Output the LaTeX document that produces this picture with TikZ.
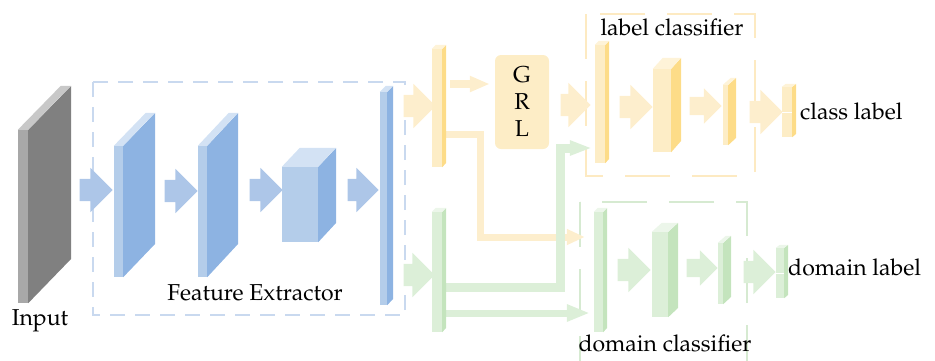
\documentclass[tikz,border=0pt]{standalone}
\usepackage[T1]{fontenc}
\usepackage{mathpazo}
\usetikzlibrary{shapes.arrows,arrows.meta}
\pgfdeclarelayer{back}
\pgfsetlayers{back,main}

\definecolor{bfront}{HTML}{B4CDEA}
\definecolor{bside}{HTML}{8DB3E2}
\definecolor{btop}{HTML}{D3E2F4}
\definecolor{barr}{HTML}{ADC6E8}
\definecolor{bdash}{HTML}{C9D9EF}
\definecolor{kfront}{HTML}{A8A8A8}
\definecolor{kside}{HTML}{808080}
\definecolor{ktop}{HTML}{C8C8C8}
\definecolor{yfront}{HTML}{FDEDC6}
\definecolor{yside}{HTML}{FDDC88}
\definecolor{ytop}{HTML}{FEF3D8}
\definecolor{yarr}{HTML}{FDEECD}
\definecolor{ydash}{HTML}{FDEAC2}
\definecolor{nfront}{HTML}{DCEFD8}
\definecolor{nside}{HTML}{C4E4BD}
\definecolor{ntop}{HTML}{ECF6EA}
\definecolor{narr}{HTML}{DCEFD8}
\definecolor{ndash}{HTML}{D6EAD1}

% slab: name, centre, width, height, dx, dy, front, side, top
\newcommand{\slab}[9]{%
\node[fill=#7, minimum width=#3, minimum height=#4, inner sep=0pt] (#1) at (#2) {};
\fill[#8] (#1.north east) -- ++(#5,-#6) -- ++(0,#4) -- (#1.south east) -- cycle;
\fill[#9] (#1.north west) -- ++(#5,-#6) -- ++(#3,0) -- (#1.north east) -- cycle;
}

\begin{document}
\begin{tikzpicture}[x=1pt,y=-1pt,
  fat/.style={single arrow, inner xsep=0pt, inner ysep=11pt, single arrow head extend=11pt},
  slim/.style={inner ysep=9pt, single arrow head extend=8.5pt},
  lbl/.style={font=\fontsize{23}{27}\selectfont, inner sep=0pt}]
\useasboundingbox (0,0) rectangle (935,360);

% feature extractor
\node[fat, fill=barr, minimum height=33] (fa1) at (90.5,190) {};
\node[fat, fill=barr, minimum height=33] (fa2) at (175.5,191) {};
\node[fat, fill=barr, minimum height=33] (fa3) at (260.5,190) {};
\node[fat, fill=barr, minimum height=31] (fa4) at (357.5,190) {};
\slab{inp}{23,216.5}{10}{173}{43}{44}{kfront}{kside}{ktop}
\slab{fe1}{118.5,211.5}{9}{131}{32}{33}{bfront}{bside}{btop}
\slab{fe2}{202.5,211.5}{9}{131}{31}{33}{bfront}{bside}{btop}
\slab{fe3}{300,204.5}{36}{75}{18}{19}{bfront}{bside}{btop}
\slab{fe4}{383.5,198.5}{7}{213}{6}{6}{bfront}{bside}{btop}

% branches
\node[fat, fill=yarr, minimum height=32] (ya0) at (414,106) {};
\node[fat, fill=narr, minimum height=31] (na0) at (413.5,275) {};
\slab{yb1}{437,108}{10}{118}{4}{4}{yfront}{yside}{ytop}
\slab{nb1}{437,272}{10}{120}{4}{4}{nfront}{nside}{ntop}
\node[fill=yfront, rounded corners=6pt, minimum width=54, minimum height=94, inner sep=0pt,
  align=center, font=\fontsize{23}{27}\selectfont] (grl) at (522,102) {G\\R\\L};

% label classifier
\node[fat, fill=yarr, minimum height=30] (ya1) at (570,105) {};
\slab{yb2}{600,104}{10}{118}{4}{4}{yfront}{yside}{ytop}
\node[fat, fill=yarr, minimum height=33] (ya2) at (630.5,107) {};
\slab{yb3}{662,110.5}{18}{83}{10}{11}{yfront}{yside}{ytop}
\node[fat, slim, fill=yarr, minimum height=32] (ya3) at (701,106) {};
\slab{yb4}{725.5,115}{5}{60}{8}{7}{yfront}{yside}{ytop}
\node[fat, fill=yarr, minimum height=33] (ya4) at (760.5,112) {};
\slab{cls}{787,112}{10}{50}{4}{3}{yfront}{yside}{ytop}
\draw[white, line width=0.8pt] (cls.west) -- (cls.east);

% domain classifier
\slab{nb2}{598.5,272}{9}{120}{4}{4}{nfront}{nside}{ntop}
\node[fat, fill=narr, minimum height=33] (na1) at (628.5,270) {};
\slab{nb3}{660,274.5}{16}{85}{10}{9}{nfront}{nside}{ntop}
\node[fat, slim, fill=narr, minimum height=31] (na2) at (697.5,268) {};
\slab{nb4}{720.5,273.5}{5}{61}{8}{7}{nfront}{nside}{ntop}
\node[fat, fill=narr, minimum height=32] (na3) at (754,272) {};
\slab{dom}{780,273}{8}{50}{4}{3}{nfront}{nside}{ntop}
\draw[white, line width=0.8pt] (dom.west) -- (dom.east);

% dashed boxes and links, behind
\begin{pgfonlayer}{back}
\draw[bdash, line width=2.5pt, dash pattern=on 15pt off 10pt] (93,82) rectangle (405,315);
\draw[ydash, line width=2.5pt, dash pattern=on 45pt off 22pt] (586,14) rectangle (755,176);
\draw[ndash, line width=2.5pt, dash pattern=on 45pt off 22pt] (580,202) rectangle (747,370);
\draw[yarr, line width=7pt, -{Triangle[length=18pt,width=15pt]}, shorten >=9pt]
  ([yshift=-26pt]yb1.east) -- ++(38,0) |- ([yshift=35pt]nb2.west);
\draw[narr, line width=9pt, -{Triangle[length=22pt,width=14pt]}, shorten >=3pt]
  ([yshift=-15pt]nb1.east) -- ++(118,0) |- ([yshift=-44pt]yb2.west);
\draw[narr, line width=7pt, -{Triangle[length=23pt,width=16pt]}, shorten >=4pt]
  ([yshift=-41pt]nb1.east) -- ([yshift=-41pt]nb2.west);
\draw[yarr, line width=8pt, -{Triangle[length=20pt,width=15pt]}, shorten <=8pt, shorten >=5pt]
  ([yshift=24pt]yb1.east) -- ([yshift=18pt]grl.west);
\end{pgfonlayer}

% labels
\node[lbl, anchor=base] (tin) at (40,325) {Input};
\node[lbl, anchor=base] (tfe) at (255,300) {Feature Extractor};
\node[lbl, anchor=base] (tlc) at (672,35) {label classifier};
\node[lbl, anchor=base west] (tcl) at (800,119) {class label};
\node[lbl, anchor=base west] (tdl) at (788,275) {domain label};
\node[lbl, anchor=base] (tdc) at (665,351) {domain classifier};
\end{tikzpicture}
\end{document}
